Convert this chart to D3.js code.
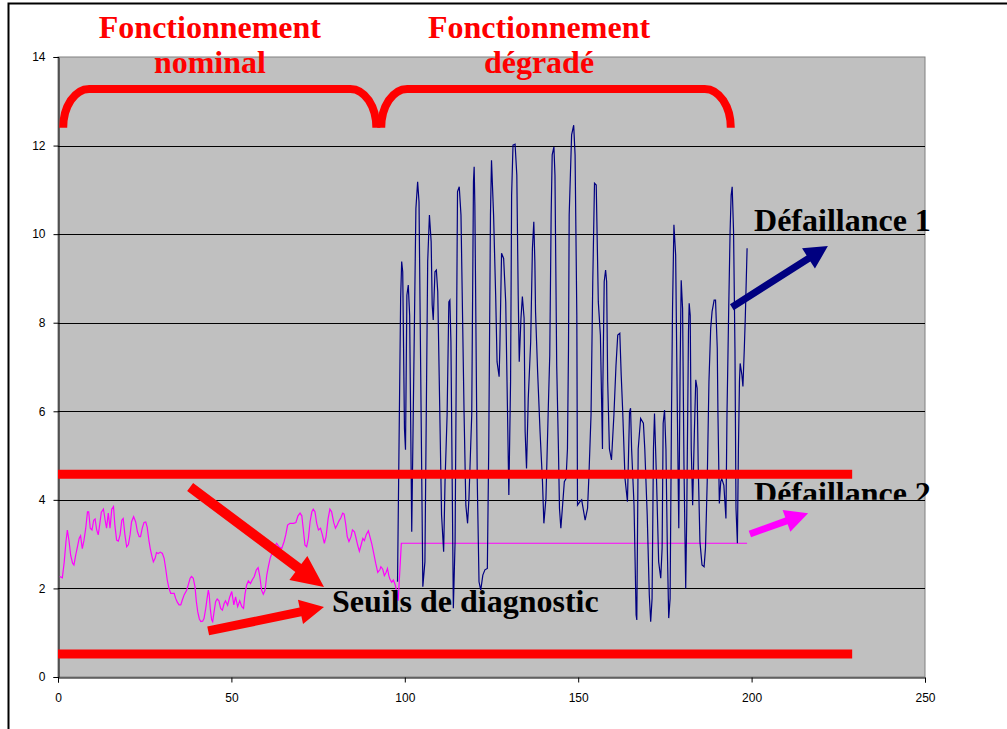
<!DOCTYPE html>
<html><head><meta charset="utf-8">
<script src="https://cdn.jsdelivr.net/npm/d3@7"></script>
<style>html,body{margin:0;padding:0;background:#fff;overflow:hidden}</style>
</head><body><svg id="c" width="1007" height="729"></svg>
<script>
// ---------- data ----------
const xTicks = [0, 50, 100, 150, 200, 250];
const yTicks = [0, 2, 4, 6, 8, 10, 12, 14];

// magenta series (nominal then constant level during degraded operation)
const nominalX = [0.5,1.25,1.8,2.3,2.7,3.2,3.65,4.2,4.6,5.1,5.6,6.1,6.5,7.0,7.5,8.0,8.5,8.85,9.3,9.8,10.3,10.7,11.15,11.6,12.0,12.5,13.1,13.6,14.0,14.5,15.0,15.5,16.0,16.4,16.9,17.4,17.9,18.4,18.8,19.3,19.8,20.3,20.8,21.2,21.8,22.4,22.9,23.4,23.8,24.3,24.8,25.3,25.7,26.2,26.6,27.1,27.5,28.0,28.4,28.9,29.5,30.1,30.6,31.05,31.5,32.0,32.5,33.0,33.5,33.9,34.4,34.9,35.4,35.85,36.4,37.1,37.6,38.1,38.5,39.0,39.5,39.9,40.3,40.75,41.2,41.7,42.1,42.6,43.0,43.35,43.6,43.9,44.3,44.6,45.0,45.45,45.9,46.4,46.9,47.4,47.9,48.3,
48.9,49.5,50.1,50.7,51.2,51.8,52.4,53.0,53.5,53.9,54.4,54.9,55.5,56.0,56.6,57.2,57.7,58.2,58.7,59.2,59.7,60.2,60.7,61.2,61.8,62.4,63.05,63.7,64.5,65.2,65.7,66.2,66.9,67.9,68.6,69.2,69.8,70.3,70.7,71.2,71.7,72.2,72.7,73.2,73.6,74.1,74.6,75.1,75.7,76.2,76.8,77.3,77.9,78.4,78.9,79.5,80.0,80.5,81.0,81.6,82.1,82.5,83.0,83.4,83.9,84.5,84.9,85.5,85.9,86.4,86.9,87.4,87.9,88.35,88.9,89.5,90.0,90.5,91.0,91.6,92.2,92.8,93.1,93.6,94.1,94.6,95.0,95.4,95.7,96.2,96.7,97.2,97.7,98.1,99.0,198.7];
const nominalY = [2.27,2.24,2.60,3.06,3.32,3.06,2.75,2.57,2.53,2.75,2.94,3.13,3.19,2.90,3.09,3.36,3.73,3.73,3.36,3.32,3.54,3.57,3.32,3.21,3.43,3.72,3.79,3.54,3.36,3.70,3.36,3.79,3.85,3.43,3.09,3.07,3.21,3.54,3.58,3.21,2.94,2.99,3.22,3.50,3.62,3.50,3.28,3.17,3.17,3.36,3.49,3.50,3.39,3.09,2.90,2.72,2.60,2.68,2.81,2.79,2.82,2.79,2.68,2.45,2.19,2.0,1.89,1.89,1.89,1.78,1.69,1.63,1.63,1.74,1.86,1.96,2.09,2.23,2.27,2.23,2.04,1.70,1.47,1.31,1.25,1.26,1.32,1.55,1.78,1.96,1.86,1.55,1.29,1.25,1.47,1.70,1.76,1.72,1.55,1.51,1.66,1.72,
1.62,1.80,1.93,1.63,1.81,1.59,1.72,1.59,1.55,1.86,2.08,2.17,2.11,2.19,2.27,2.42,2.47,2.27,1.96,1.87,1.96,2.30,2.51,2.69,2.81,2.94,3.02,2.94,2.90,3.06,3.22,3.43,3.47,3.47,3.49,3.64,3.70,3.64,3.36,2.98,2.94,3.13,3.51,3.73,3.79,3.73,3.47,3.32,3.36,3.22,3.02,3.17,3.58,3.79,3.73,3.49,3.36,3.43,3.52,3.60,3.70,3.68,3.43,3.17,3.06,3.17,3.32,3.28,3.15,2.98,2.84,2.98,3.13,3.08,3.22,3.30,3.15,3.00,2.81,2.57,2.36,2.42,2.49,2.44,2.29,2.36,2.45,2.29,2.21,2.14,2.19,2.09,1.93,1.72,3.02,3.02];

// navy series (degraded operation)
const degradedX = [97.9,98.8,99.1,99.4,99.9,100.2,100.6,101.0,101.4,102.0,103.2,103.7,104.1,105.2,105.8,106.6,107.1,107.6,107.9,108.2,108.7,109.1,109.5,110.6,111.2,111.6,112.2,112.7,113.0,113.3,114.0,114.5,115.2,115.7,116.2,117.1,117.6,118.1,118.5,119.3,119.8,120.0,120.2,120.9,121.4,121.9,122.5,123.1,123.8,124.2,124.7,125.0,125.6,126.2,126.6,127.2,127.4,127.9,128.5,129.1,129.6,130.0,130.5,130.8,131.2,131.8,
132.3,132.7,133.0,133.5,133.9,134.4,134.7,135.1,135.6,136.3,136.8,137.2,137.5,137.7,138.3,139.0,139.7,140.1,140.7,141.4,141.8,142.2,142.5,143.0,143.3,143.8,144.3,144.6,145.0,145.5,146.0,146.5,146.9,147.2,147.4,148.1,148.7,149.1,149.6,149.8,150.5,151.0,152.0,152.7,153.1,153.7,154.2,154.7,155.2,155.8,156.4,157.0,157.1,157.5,157.9,158.2,158.5,159.0,159.6,160.3,160.9,161.4,162.0,162.4,162.8,163.5,164.2,164.8,165.1,165.4,
166.1,166.7,166.9,167.3,168.0,168.8,169.2,169.9,170.5,170.9,171.3,171.7,172.0,172.6,173.2,173.8,174.2,174.5,174.9,175.3,175.7,176.1,176.5,176.9,177.2,177.6,178.1,178.6,179.0,179.4,179.7,180.1,180.5,181.0,181.3,181.8,182.0,182.3,182.6,183.0,183.5,183.9,184.3,184.6,185.1,185.7,186.3,186.7,187.2,187.7,188.2,188.6,189.2,189.6,190.1,190.3,190.7,191.1,191.4,192.0,192.6,192.9,193.4,193.8,194.1,194.4,194.8,195.2,195.5,195.9,196.2,196.5,196.7,197.2,197.5,197.9,198.2,198.7];
const degradedY = [2.15,8.55,9.38,9.15,5.61,5.13,8.62,8.85,8.17,3.28,10.58,11.18,10.73,2.04,2.60,9.38,10.43,9.83,8.40,8.06,9.15,9.19,8.70,3.66,2.83,4.41,5.92,8.47,8.51,7.57,1.55,3.06,10.96,11.07,10.43,5.92,3.88,3.47,4.03,5.92,11.18,11.52,10.66,4.41,2.15,1.96,2.30,2.42,2.45,5.15,10.43,11.67,10.43,8.62,7.12,6.78,7.42,9.57,9.45,8.47,6.07,4.11,6.67,10.88,12.01,12.03,
11.33,8.62,7.12,8.10,8.59,8.10,5.54,4.71,6.29,7.57,9.68,10.28,9.38,8.25,6.89,5.54,4.41,3.47,4.03,6.14,7.27,10.43,11.79,11.97,11.33,7.04,5.15,3.81,3.36,3.88,4.41,4.48,5.15,7.42,10.43,12.24,12.46,11.79,8.17,3.88,3.96,4.00,3.54,3.81,4.56,5.92,8.93,11.15,11.11,8.47,7.72,5.15,6.52,8.93,9.19,8.93,6.67,5.15,4.90,5.92,7.04,7.72,7.76,6.82,6.07,4.48,3.96,5.99,6.07,5.15,
3.88,1.40,1.29,5.15,5.84,5.73,5.15,3.66,1.85,1.25,1.77,5.15,5.95,4.41,2.60,2.23,2.91,5.73,6.03,5.15,2.91,1.33,1.77,5.92,8.32,10.21,9.53,5.92,3.36,7.04,8.96,8.32,4.79,2.00,3.66,7.80,8.44,8.17,5.15,3.88,5.54,6.71,6.52,4.79,3.06,2.53,2.49,2.91,4.41,6.67,7.87,8.25,8.51,8.51,7.42,5.92,3.92,4.41,4.48,4.33,3.58,5.92,8.32,10.06,10.88,11.07,10.06,7.42,3.81,3.02,5.15,6.67,7.08,6.82,6.56,7.42,8.17,9.68];

// diagnostic thresholds
const thresholdX = [0, 229];
const thresholdHigh = [4.58, 4.58];
const thresholdLow = [0.52, 0.52];

// phase brackets and titles
const phaseTitles = [["Fonctionnement", "nominal"], ["Fonctionnement", "dégradé"]];
const phaseStart = [1.5, 93.2];
const phaseEnd = [91.8, 194.0];
const phaseCenter = [43.8, 138.7];

// annotation texts and arrows
const labels = ["Seuils de diagnostic", "Défaillance 1", "Défaillance 2"];
const labelX = [79.0, 200.7, 200.7];
const labelY = [1.47, 10.06, 3.91];
const arrowFrom = [[38.1, 4.29], [43.3, 1.04], [194.3, 8.35], [199.5, 3.23]];
const arrowTo = [[76.7, 2.03], [76.7, 1.58], [222.0, 9.73], [216.3, 3.70]];
const arrowColor = ["#ff0000", "#ff0000", "#000080", "#ff00ff"];

// ---------- drawing ----------
const svg = d3.select("#c");
const L = 58, R = 925, T = 57, B = 677;
const x = d3.scaleLinear().domain([0, 250]).range([L, R]);
const y = d3.scaleLinear().domain([0, 14]).range([B, T]);

// outer frame
svg.append("rect").attr("x", 8.5).attr("y", 3.5).attr("width", 1020).attr("height", 760)
  .attr("fill", "#fff").attr("stroke", "#000").attr("stroke-width", 2);

// plot area
svg.append("rect").attr("x", L).attr("y", T).attr("width", R - L).attr("height", B - T)
  .attr("fill", "#c0c0c0").attr("stroke", "#808080").attr("stroke-width", 1);

// gridlines
svg.append("g").selectAll("line").data(yTicks.filter(d => d > 0 && d < 14)).join("line")
  .attr("x1", L).attr("x2", R).attr("y1", d => Math.round(y(d)) + 0.5).attr("y2", d => Math.round(y(d)) + 0.5)
  .attr("stroke", "#000").attr("stroke-width", 1);

// axes
const yAxis = d3.axisLeft(y).tickValues(yTicks).tickSize(5).tickPadding(8);
const gy = svg.append("g").attr("transform", `translate(${L + 0.5},0)`).call(yAxis);
const xAxis = d3.axisBottom(x).tickValues(xTicks).tickSize(5).tickPadding(11);
const gx = svg.append("g").attr("transform", `translate(0,${B + 0.5})`).call(xAxis);
[gx, gy].forEach(g => {
  g.selectAll("text").attr("font-family", "Liberation Sans, Arial, sans-serif").attr("font-size", 12).attr("fill", "#000");
  g.selectAll("line,path").attr("stroke", "#000");
});

const line = d3.line().x(d => x(d[0])).y(d => y(d[1]));
const zip = (a, b) => a.map((v, i) => [v, b[i]]);

// series
svg.append("path").datum(zip(nominalX, nominalY)).attr("d", line)
  .attr("fill", "none").attr("stroke", "#ff00ff").attr("stroke-width", 1.2);
svg.append("path").datum(zip(degradedX, degradedY)).attr("d", line)
  .attr("fill", "none").attr("stroke", "#000080").attr("stroke-width", 1.2);

// thresholds
[thresholdHigh, thresholdLow].forEach(t => {
  svg.append("path").datum(zip(thresholdX, t)).attr("d", line)
    .attr("fill", "none").attr("stroke", "#ff0000").attr("stroke-width", 9);
});

// brackets
const bTop = 13.28, bBot = 12.4;
phaseStart.forEach((s, i) => {
  const x0 = x(s), x1 = x(phaseEnd[i]), yt = y(bTop), yb = y(bBot);
  const rx = 26, ry = yb - yt;
  const d = `M${x0},${yb} A${rx},${ry} 0 0 1 ${x0 + rx},${yt} L${x1 - rx},${yt} A${rx},${ry} 0 0 1 ${x1},${yb}`;
  svg.append("path").attr("d", d).attr("fill", "none").attr("stroke", "#ff0000").attr("stroke-width", 8);
});

// phase titles
phaseTitles.forEach((lines, i) => {
  const t = svg.append("text").attr("x", x(phaseCenter[i])).attr("text-anchor", "middle")
    .attr("font-family", "Liberation Serif, 'Times New Roman', serif").attr("font-weight", "bold")
    .attr("font-size", 32).attr("fill", "#ff0000");
  t.append("tspan").attr("x", x(phaseCenter[i])).attr("y", 37.5).text(lines[0]);
  t.append("tspan").attr("x", x(phaseCenter[i])).attr("y", 72.5).text(lines[1]);
});

// arrows
const arrowSpec = [[10, 32, 30], [9, 24, 25], [7, 23, 24], [7, 23, 23]];
arrowFrom.forEach((f, i) => {
  const p0 = [x(f[0]), y(f[1])], p1 = [x(arrowTo[i][0]), y(arrowTo[i][1])];
  const [sw, hl, hw] = arrowSpec[i];
  const dx = p1[0] - p0[0], dy = p1[1] - p0[1], len = Math.hypot(dx, dy);
  const ux = dx / len, uy = dy / len, nx = -uy, ny = ux;
  const bx = p1[0] - ux * hl, by = p1[1] - uy * hl;
  const pts = [
    [p0[0] + nx * sw / 2, p0[1] + ny * sw / 2],
    [bx + nx * sw / 2, by + ny * sw / 2],
    [bx + nx * hw / 2, by + ny * hw / 2],
    p1,
    [bx - nx * hw / 2, by - ny * hw / 2],
    [bx - nx * sw / 2, by - ny * sw / 2],
    [p0[0] - nx * sw / 2, p0[1] - ny * sw / 2]
  ];
  svg.append("polygon").attr("points", pts.map(p => p.join(",")).join(" ")).attr("fill", arrowColor[i]);
});

// annotation labels
svg.append("clipPath").attr("id", "clipD2").append("rect")
  .attr("x", 0).attr("y", 0).attr("width", 1007).attr("height", y(4));
labels.forEach((s, i) => {
  const t = svg.append("text").attr("x", x(labelX[i])).attr("y", y(labelY[i]))
    .attr("font-family", "Liberation Serif, 'Times New Roman', serif").attr("font-weight", "bold")
    .attr("font-size", 32).attr("fill", "#000").text(s);
  if (i === 2) t.attr("clip-path", "url(#clipD2)");
});
</script></body></html>
